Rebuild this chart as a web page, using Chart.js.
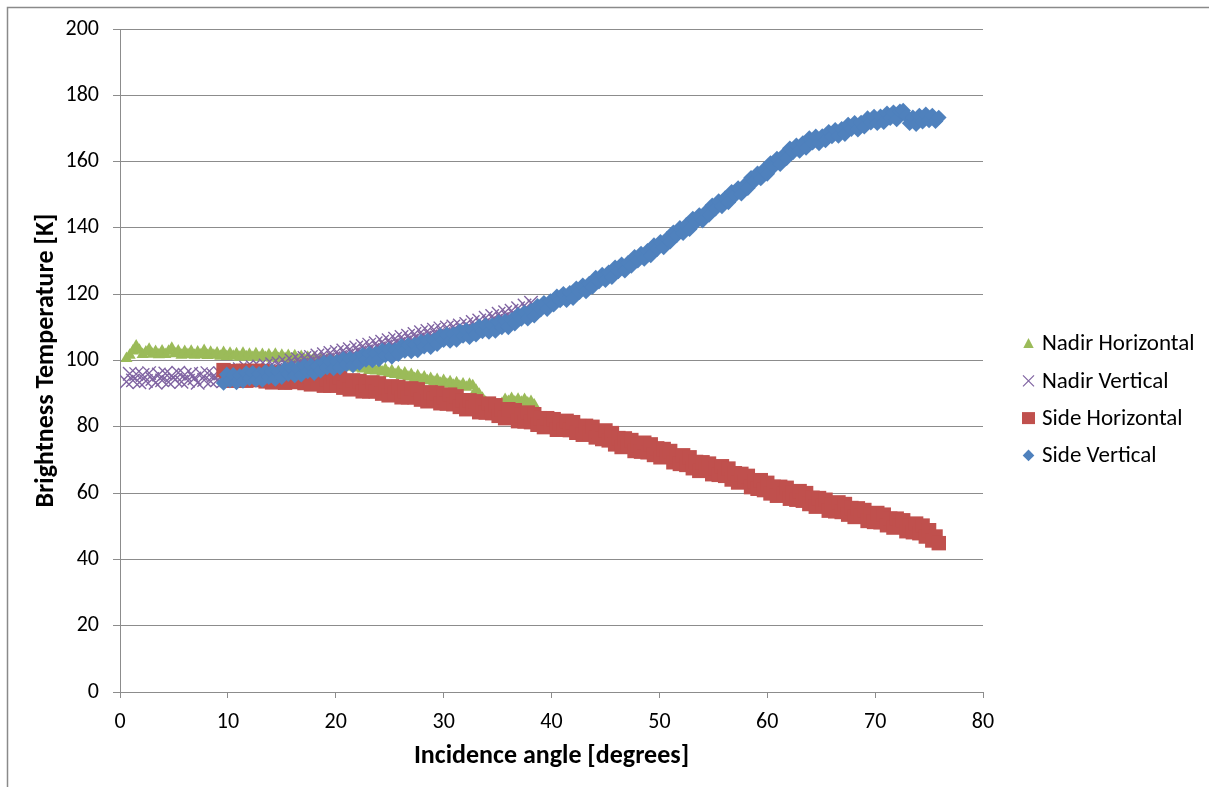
<!DOCTYPE html>
<html>
<head>
<meta charset="utf-8">
<title>Brightness temperature vs incidence angle</title>
<script src="https://cdn.jsdelivr.net/npm/chart.js@4.4.1/dist/chart.umd.min.js"></script>
<style>
  html, body { margin: 0; padding: 0; background: #fff; overflow: hidden; }
  #wrap { position: relative; width: 1209px; height: 787px; }
</style>
</head>
<body>
<div id="wrap"><canvas id="chart"></canvas></div>
<script>
// ---- data ----
const seriesNames = ['Nadir Horizontal', 'Nadir Vertical', 'Side Horizontal', 'Side Vertical'];

const xTickValues = [0, 10, 20, 30, 40, 50, 60, 70, 80];
const yTickValues = [0, 20, 40, 60, 80, 100, 120, 140, 160, 180, 200];

// incidence angles of the nadir-looking measurements [degrees]
const nadirAngle = [
  0.6, 0.9, 1.2, 1.5, 1.8, 2.1, 2.4, 2.7, 3.0, 3.3,
  3.6, 3.9, 4.2, 4.5, 4.8, 5.1, 5.4, 5.7, 6.0, 6.3,
  6.6, 6.9, 7.2, 7.5, 7.8, 8.1, 8.4, 8.7, 9.0, 9.3,
  9.6, 9.9, 10.2, 10.5, 10.8, 11.1, 11.4, 11.7, 12.0, 12.3,
  12.6, 12.9, 13.2, 13.5, 13.8, 14.1, 14.4, 14.7, 15.0, 15.3,
  15.6, 15.9, 16.2, 16.5, 16.8, 17.1, 17.4, 17.7, 18.0, 18.3,
  18.6, 18.9, 19.2, 19.5, 19.8, 20.1, 20.4, 20.7, 21.0, 21.3,
  21.6, 21.9, 22.2, 22.5, 22.8, 23.1, 23.4, 23.7, 24.0, 24.3,
  24.6, 24.9, 25.2, 25.5, 25.8, 26.1, 26.4, 26.7, 27.0, 27.3,
  27.6, 27.9, 28.2, 28.5, 28.8, 29.1, 29.4, 29.7, 30.0, 30.3,
  30.6, 30.9, 31.2, 31.5, 31.8, 32.1, 32.4, 32.7, 33.0, 33.3,
  33.6, 33.9, 34.2, 34.5, 34.8, 35.1, 35.4, 35.7, 36.0, 36.3,
  36.6, 36.9, 37.2, 37.5, 37.8, 38.1, 38.4
];

// brightness temperature, nadir, horizontal polarisation [K]
const nadirHorizontal = [
  100.6, 101.6, 102.9, 104.4, 103.1, 101.8, 102.6, 103.4, 101.9, 102.7,
  101.7, 102.9, 101.8, 102.8, 103.7, 102.0, 102.9, 101.6, 102.7, 101.8,
  102.8, 101.6, 102.6, 101.7, 103.0, 101.5, 102.5, 101.6, 102.3, 101.3,
  102.4, 101.2, 102.2, 101.3, 102.0, 101.0, 102.2, 101.1, 101.9, 100.9,
  102.0, 100.8, 101.8, 100.9, 101.7, 100.7, 101.9, 100.6, 101.6, 100.6,
  101.5, 100.4, 101.4, 100.2, 101.2, 100.1, 101.0, 99.9, 100.8, 99.6,
  100.5, 99.3, 100.2, 99.0, 99.9, 98.8, 99.6, 98.4, 99.2, 98.0,
  98.9, 97.7, 98.6, 97.4, 98.2, 97.0, 97.9, 96.8, 97.6, 96.5,
  97.3, 96.1, 96.9, 95.8, 96.6, 95.4, 96.2, 95.0, 95.8, 94.6,
  95.4, 94.2, 95.0, 93.9, 94.6, 93.5, 94.3, 93.1, 94.0, 92.8,
  93.6, 92.5, 93.3, 92.2, 92.9, 91.9, 92.8, 92.4, 91.0, 89.8,
  88.6, 87.4, 86.6, 86.0, 86.2, 86.4, 87.0, 88.2, 87.6, 88.5,
  87.5, 88.3, 87.4, 88.2, 87.2, 87.6, 86.6
];

// brightness temperature, nadir, vertical polarisation [K]
const nadirVertical = [
  93.6, 96.0, 94.0, 95.9, 93.4, 95.6, 93.8, 96.2, 94.4, 93.3,
  95.8, 94.0, 96.1, 93.5, 95.4, 94.2, 96.3, 93.6, 95.7, 93.9,
  96.0, 94.6, 93.3, 95.9, 94.1, 96.2, 93.7, 95.5, 94.0, 96.1,
  93.8, 95.8, 94.6, 96.9, 95.3, 97.4, 95.8, 97.8, 96.1, 98.0,
  96.4, 98.2, 96.6, 98.5, 97.0, 98.9, 97.2, 99.1, 97.6, 99.5,
  98.0, 100.0, 98.4, 100.4, 98.8, 100.8, 99.2, 101.1, 99.6, 101.5,
  99.9, 101.9, 100.3, 102.3, 100.7, 102.6, 101.1, 103.0, 101.5, 103.4,
  101.9, 103.9, 102.4, 104.4, 102.8, 104.8, 103.2, 105.2, 103.7, 105.7,
  104.2, 106.1, 104.6, 106.6, 105.0, 107.1, 105.5, 107.5, 106.0, 108.0,
  106.4, 108.5, 106.9, 108.9, 107.3, 109.3, 107.6, 109.7, 108.0, 110.0,
  108.3, 110.3, 108.7, 110.6, 109.0, 111.0, 109.5, 111.6, 110.0, 112.1,
  110.6, 112.9, 111.3, 113.4, 111.9, 114.1, 112.5, 114.6, 113.0, 115.0,
  113.6, 115.8, 114.3, 116.6, 115.2, 117.4, 116.4
];

// incidence angles of the side-looking measurements [degrees]
const sideAngle = [
  9.6, 9.9, 10.2, 10.5, 10.8, 11.1, 11.4, 11.7, 12.0, 12.3,
  12.6, 12.9, 13.2, 13.5, 13.8, 14.1, 14.4, 14.7, 15.0, 15.3,
  15.6, 15.9, 16.2, 16.5, 16.8, 17.1, 17.4, 17.7, 18.0, 18.3,
  18.6, 18.9, 19.2, 19.5, 19.8, 20.1, 20.4, 20.7, 21.0, 21.3,
  21.6, 21.9, 22.2, 22.5, 22.8, 23.1, 23.4, 23.7, 24.0, 24.3,
  24.6, 24.9, 25.2, 25.5, 25.8, 26.1, 26.4, 26.7, 27.0, 27.3,
  27.6, 27.9, 28.2, 28.5, 28.8, 29.1, 29.4, 29.7, 30.0, 30.3,
  30.6, 30.9, 31.2, 31.5, 31.8, 32.1, 32.4, 32.7, 33.0, 33.3,
  33.6, 33.9, 34.2, 34.5, 34.8, 35.1, 35.4, 35.7, 36.0, 36.3,
  36.6, 36.9, 37.2, 37.5, 37.8, 38.1, 38.4, 38.7, 39.0, 39.3,
  39.6, 39.9, 40.2, 40.5, 40.8, 41.1, 41.4, 41.7, 42.0, 42.3,
  42.6, 42.9, 43.2, 43.5, 43.8, 44.1, 44.4, 44.7, 45.0, 45.3,
  45.6, 45.9, 46.2, 46.5, 46.8, 47.1, 47.4, 47.7, 48.0, 48.3,
  48.6, 48.9, 49.2, 49.5, 49.8, 50.1, 50.4, 50.7, 51.0, 51.3,
  51.6, 51.9, 52.2, 52.5, 52.8, 53.1, 53.4, 53.7, 54.0, 54.3,
  54.6, 54.9, 55.2, 55.5, 55.8, 56.1, 56.4, 56.7, 57.0, 57.3,
  57.6, 57.9, 58.2, 58.5, 58.8, 59.1, 59.4, 59.7, 60.0, 60.3,
  60.6, 60.9, 61.2, 61.5, 61.8, 62.1, 62.4, 62.7, 63.0, 63.3,
  63.6, 63.9, 64.2, 64.5, 64.8, 65.1, 65.4, 65.7, 66.0, 66.3,
  66.6, 66.9, 67.2, 67.5, 67.8, 68.1, 68.4, 68.7, 69.0, 69.3,
  69.6, 69.9, 70.2, 70.5, 70.8, 71.1, 71.4, 71.7, 72.0, 72.3,
  72.6, 72.9, 73.2, 73.5, 73.8, 74.1, 74.4, 74.7, 75.0, 75.3,
  75.6, 75.9
];

// brightness temperature, side, horizontal polarisation [K]
const sideHorizontal = [
  97.1, 94.1, 96.3, 93.9, 96.8, 94.9, 96.9, 93.9, 96.0, 94.1,
  96.9, 94.3, 96.8, 93.7, 95.9, 93.4, 96.3, 94.4, 96.3, 93.3,
  95.4, 93.5, 96.4, 93.7, 96.2, 93.2, 95.3, 92.8, 95.6, 93.6,
  95.5, 92.4, 94.3, 92.4, 95.2, 92.5, 94.9, 91.8, 93.8, 91.3,
  94.0, 92.0, 93.8, 90.7, 92.6, 90.7, 93.4, 90.7, 93.1, 90.0,
  92.0, 89.5, 92.2, 90.2, 92.0, 88.9, 90.8, 88.9, 91.6, 88.9,
  91.3, 88.2, 90.2, 87.7, 90.4, 88.4, 90.2, 87.1, 89.0, 87.0,
  89.7, 86.8, 89.2, 86.0, 88.0, 85.3, 88.0, 85.9, 87.7, 84.4,
  86.3, 84.3, 87.0, 84.1, 86.5, 83.3, 85.3, 82.6, 85.3, 83.2,
  85.0, 81.7, 83.6, 81.6, 84.3, 81.4, 83.8, 80.6, 82.6, 79.9,
  82.6, 80.5, 82.3, 79.1, 81.0, 79.1, 81.8, 79.0, 81.4, 78.2,
  80.2, 77.6, 80.3, 78.2, 80.0, 76.8, 78.5, 76.3, 78.9, 75.9,
  78.1, 74.7, 76.6, 73.9, 76.5, 74.3, 76.0, 72.7, 74.5, 72.5,
  75.2, 72.3, 74.7, 71.5, 73.5, 70.8, 73.3, 71.0, 72.7, 69.3,
  71.0, 68.8, 71.4, 68.5, 70.8, 67.5, 69.4, 66.7, 69.3, 67.2,
  68.9, 65.7, 67.5, 65.5, 68.1, 65.2, 67.4, 64.1, 66.0, 63.2,
  65.8, 63.5, 65.2, 61.8, 63.5, 61.3, 63.9, 60.9, 63.1, 59.9,
  61.9, 59.2, 61.9, 59.8, 61.6, 58.3, 60.1, 58.0, 60.6, 57.7,
  60.0, 56.7, 58.6, 55.9, 58.5, 56.3, 58.0, 54.7, 56.5, 54.5,
  57.2, 54.3, 56.7, 53.5, 55.5, 52.8, 55.4, 53.2, 54.9, 51.6,
  53.4, 51.3, 54.0, 51.2, 53.5, 50.3, 52.3, 49.6, 52.3, 50.1,
  51.8, 48.5, 50.3, 48.2, 50.8, 47.9, 50.2, 46.9, 48.8, 45.7,
  46.9, 44.9
];

// brightness temperature, side, vertical polarisation [K]
const sideVertical = [
  93.2, 95.8, 94.0, 95.7, 93.4, 95.4, 93.8, 96.2, 94.6, 96.3,
  94.1, 96.0, 94.1, 96.7, 95.0, 96.7, 94.4, 96.5, 95.0, 97.5,
  95.9, 97.7, 95.5, 97.6, 95.7, 98.4, 96.7, 98.5, 96.2, 98.3,
  96.9, 99.4, 97.9, 99.7, 97.6, 99.7, 97.9, 100.5, 98.9, 100.7,
  98.5, 100.6, 99.2, 101.7, 100.2, 102.1, 100.0, 102.1, 100.3, 103.1,
  101.5, 103.3, 101.1, 103.2, 101.9, 104.4, 102.9, 104.7, 102.7, 104.8,
  103.0, 105.7, 104.2, 106.1, 104.0, 106.2, 104.9, 107.5, 106.1, 107.9,
  105.9, 108.0, 106.2, 108.9, 107.4, 109.2, 107.0, 109.1, 107.8, 110.3,
  108.8, 110.6, 108.6, 110.7, 108.9, 111.6, 110.0, 111.9, 110.0, 112.3,
  111.1, 113.8, 112.5, 114.5, 112.6, 115.0, 113.5, 116.5, 115.3, 117.4,
  115.5, 117.9, 116.8, 119.4, 118.1, 120.1, 118.2, 120.4, 118.8, 121.8,
  120.6, 122.7, 120.8, 123.2, 122.2, 125.0, 123.8, 125.9, 124.2, 126.6,
  125.1, 128.1, 126.9, 129.0, 127.1, 129.5, 128.5, 131.3, 130.1, 132.3,
  130.6, 133.1, 131.7, 134.8, 133.6, 135.8, 134.1, 136.7, 135.8, 138.7,
  137.7, 140.0, 138.4, 140.9, 139.6, 142.8, 141.7, 143.9, 142.2, 144.8,
  143.9, 146.8, 145.8, 148.1, 146.5, 149.0, 147.7, 150.9, 149.8, 152.0,
  150.3, 152.9, 152.0, 155.1, 154.1, 156.5, 154.9, 157.6, 156.3, 159.6,
  158.5, 160.9, 159.2, 161.9, 161.0, 164.0, 162.8, 164.9, 163.2, 165.6,
  164.1, 167.1, 165.7, 167.6, 165.5, 167.7, 166.4, 169.0, 167.6, 169.6,
  167.7, 169.9, 168.3, 171.2, 169.8, 171.7, 169.6, 171.8, 170.5, 173.1,
  171.7, 173.6, 171.6, 173.7, 171.9, 174.6, 173.1, 174.9, 172.7, 175.2,
  175.4, 173.8, 171.6, 173.4, 171.3, 173.9, 172.0, 174.3, 172.4, 173.9,
  172.2, 173.3
];

// ---- appearance ----
const FONT = "Carlito, Lato, 'Liberation Sans', sans-serif";
const GRID = '#8c8c8c';
const colors = ['#9BBB59', '#8064A2', '#C0504D', '#4F81BD'];
const styles = ['triangle', 'crossRot', 'rect', 'rectRot'];
const radii = [7, 9.5, 10.2, 7.8];

const toPoints = (xs, ys) => xs.map((x, i) => ({ x: x, y: ys[i] }));
const seriesData = [
  toPoints(nadirAngle, nadirHorizontal),
  toPoints(nadirAngle, nadirVertical),
  toPoints(sideAngle, sideHorizontal),
  toPoints(sideAngle, sideVertical)
];

const datasets = seriesNames.map((name, i) => ({
  label: name,
  data: seriesData[i],
  pointStyle: styles[i],
  pointRadius: radii[i],
  pointHoverRadius: radii[i],
  backgroundColor: colors[i],
  borderColor: colors[i],
  borderWidth: styles[i] === 'crossRot' ? 1.4 : 0,
  showLine: false,
  order: 4 - i           // later series are painted on top
}));

// white page with the outer chart frame (left and top edges visible)
const framePlugin = {
  id: 'frame',
  beforeDraw(chart) {
    const ctx = chart.ctx;
    ctx.save();
    ctx.fillStyle = '#fff';
    ctx.fillRect(0, 0, chart.width, chart.height);
    ctx.strokeStyle = '#8a8a8a';
    ctx.lineWidth = 1.5;
    ctx.beginPath();
    ctx.moveTo(7.5, chart.height);
    ctx.lineTo(7.5, 7.5);
    ctx.lineTo(chart.width, 7.5);
    ctx.stroke();
    ctx.restore();
  }
};

// legend on the right: marker + series name, one per row
function drawMarker(ctx, style, x, y, color) {
  ctx.fillStyle = color;
  ctx.strokeStyle = color;
  ctx.beginPath();
  if (style === 'triangle') {
    ctx.moveTo(x, y - 5.5);
    ctx.lineTo(x + 5.2, y + 4.5);
    ctx.lineTo(x - 5.2, y + 4.5);
    ctx.closePath();
    ctx.fill();
  } else if (style === 'crossRot') {
    ctx.lineWidth = 1.2;
    ctx.moveTo(x - 5.5, y - 5.5); ctx.lineTo(x + 5.5, y + 5.5);
    ctx.moveTo(x + 5.5, y - 5.5); ctx.lineTo(x - 5.5, y + 5.5);
    ctx.stroke();
  } else if (style === 'rect') {
    ctx.fillRect(x - 6.5, y - 6, 13, 12);
  } else {
    ctx.moveTo(x, y - 5.8);
    ctx.lineTo(x + 5.8, y);
    ctx.lineTo(x, y + 5.8);
    ctx.lineTo(x - 5.8, y);
    ctx.closePath();
    ctx.fill();
  }
}

const legendPlugin = {
  id: 'sideLegend',
  afterDraw(chart) {
    const ctx = chart.ctx;
    const markerX = 1028.5, textX = 1042, firstY = 343.5, rowStep = 37.3;
    ctx.save();
    chart.data.datasets.forEach((ds, i) => {
      const y = firstY + i * rowStep;
      drawMarker(ctx, ds.pointStyle, markerX, y, ds.backgroundColor);
      ctx.fillStyle = '#000';
      ctx.font = '23px ' + FONT;
      ctx.textAlign = 'left';
      ctx.textBaseline = 'middle';
      ctx.fillText(ds.label, textX, y + 1);
    });
    ctx.restore();
  }
};

new Chart(document.getElementById('chart'), {
  type: 'scatter',
  data: { datasets: datasets },
  plugins: [framePlugin, legendPlugin],
  options: {
    responsive: true,
    maintainAspectRatio: false,
    animation: false,
    events: [],
    layout: { padding: { left: 0, top: 29, right: 226, bottom: 0 } },
    plugins: {
      legend: { display: false },
      tooltip: { enabled: false }
    },
    scales: {
      x: {
        type: 'linear',
        min: 0,
        max: 80,
        afterBuildTicks: s => { s.ticks = xTickValues.map(v => ({ value: v })); },
        afterFit: s => { s.height = 95; },
        grid: { drawOnChartArea: false, drawTicks: true, tickLength: 6, color: GRID, lineWidth: 1 },
        border: { display: true, color: GRID, width: 1 },
        ticks: { font: { family: FONT, size: 22 }, color: '#000', padding: 11, maxRotation: 0 },
        title: {
          display: true,
          text: 'Incidence angle [degrees]',
          color: '#000',
          font: { family: FONT, size: 26, weight: 'bold' },
          padding: { top: 0, bottom: 15 }
        }
      },
      y: {
        type: 'linear',
        min: 0,
        max: 200,
        afterBuildTicks: s => { s.ticks = yTickValues.map(v => ({ value: v })); },
        afterFit: s => { s.width = 120; },
        grid: { drawOnChartArea: true, drawTicks: true, tickLength: 7, color: GRID, lineWidth: 1 },
        border: { display: true, color: GRID, width: 1 },
        ticks: { font: { family: FONT, size: 22 }, color: '#000', padding: 14 },
        title: {
          display: true,
          text: 'Brightness Temperature [K]',
          color: '#000',
          font: { family: FONT, size: 26, weight: 'bold' },
          padding: { top: 31, bottom: 0 }
        }
      }
    }
  }
});
</script>
</body>
</html>
